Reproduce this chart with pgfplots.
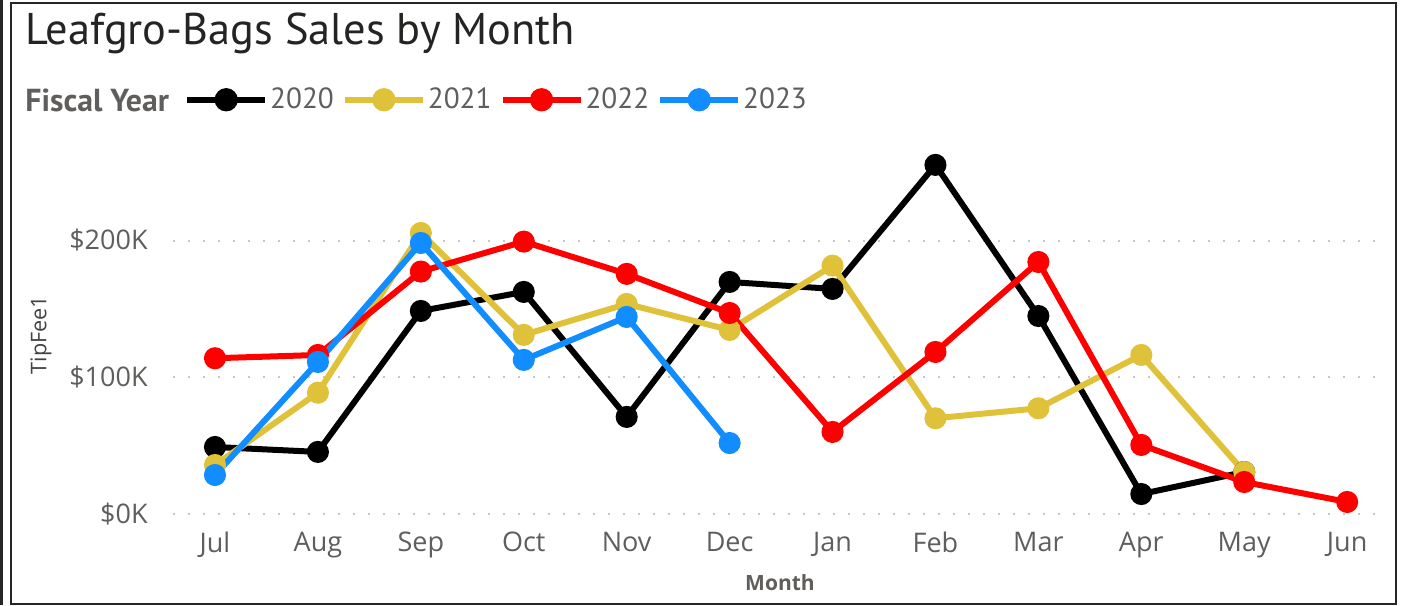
\documentclass[border=0pt]{standalone}
\usepackage{pgfplots}
\pgfplotsset{compat=1.18}
\usepackage{fontspec}
\setmainfont{Open Sans}
\newfontfamily\ptsans{PT Sans}
\definecolor{cYellow}{HTML}{E0C23A}
\definecolor{cRed}{HTML}{FF0000}
\definecolor{cBlue}{HTML}{118DFF}
\definecolor{cTick}{HTML}{605E5C}
\definecolor{cTitle}{HTML}{252423}
\definecolor{cGrid}{HTML}{C8C6C4}
\begin{document}
\begin{tikzpicture}
\useasboundingbox (0,0) rectangle (701pt,302.5pt);
% frame
\draw[line width=1pt, black!85] (5.5pt,0.5pt) rectangle (698pt,301pt);
\draw[line width=1.4pt, black!85] (0.8pt,0pt) -- (0.8pt,302.5pt);
% title
\node[anchor=base west, inner sep=0pt, font=\ptsans\fontsize{22.2}{25}\selectfont, text=cTitle] at (12.5pt,280pt) {Leafgro-Bags Sales by Month};
% legend title
\node[anchor=west, inner sep=0pt, font=\ptsans\bfseries\fontsize{15.9}{18}\selectfont, text=cTick] at (12.5pt,252.5pt) {Fiscal Year};
\begin{axis}[
  at={(86.5pt,45.5pt)}, anchor=south west,
  scale only axis, width=602pt, height=184.6pt,
  xmin=-0.408, xmax=11.29,
  ymin=0, ymax=270000,
  clip=false,
  axis line style={draw=none},
  tick style={draw=none},
  xtick={0,1,2,3,4,5,6,7,8,9,10,11},
  xticklabels={Jul,Aug,Sep,Oct,Nov,Dec,Jan,Feb,Mar,Apr,May,Jun},
  ytick={0,100000,200000},
  yticklabels={\$0K,\$100K,\$200K},
  scaled y ticks=false,
  ymajorgrids,
  grid style={cGrid, line width=1pt, dash pattern=on 1pt off 6.5pt},
  tick label style={font=\fontsize{13.5}{16}\selectfont, text=cTick, inner sep=0pt},
  x tick label style={anchor=north},
  xticklabel shift=9pt,
  y tick label style={anchor=east},
  yticklabel shift=12.5pt,
  legend columns=-1,
  legend style={at={(0.009,1.122)}, anchor=west, draw=none, fill=none,
    inner xsep=0pt, inner ysep=0pt,
    nodes={inner sep=0pt},
    font=\ptsans\fontsize{14.6}{18}\selectfont, text=cTick,
    /tikz/every odd column/.append style={column sep=1pt},
    /tikz/every even column/.append style={column sep=4pt}},
  legend image code/.code={%
    \draw[#1, mark=none] (0pt,0pt) -- (39pt,0pt);
    \draw[#1, mark size=4.3pt] plot coordinates {(19.5pt,0pt)};},
  every axis plot/.append style={line width=3pt, mark=*, mark size=4pt, mark options={solid}},
]
\addplot[color=black] coordinates {
(0,49000) (1,45400) (2,148500) (3,162400) (4,71000) (5,169700)
(6,164600) (7,255300) (8,144800) (9,14600) (10,30700)};
\addlegendentry{2020}
\addplot[color=cYellow] coordinates {
(0,35800) (1,88700) (2,205500) (3,131000) (4,153600) (5,134600)
(6,181600) (7,70000) (8,77300) (9,116300) (10,30700)};
\addlegendentry{2021}
\addplot[color=cRed] coordinates {
(0,113900) (1,116300) (2,177300) (3,199200) (4,175600) (5,147000)
(6,60000) (7,118500) (8,184300) (9,50500) (10,23400) (11,8800)};
\addlegendentry{2022}
\addplot[color=cBlue] coordinates {
(0,28500) (1,111200) (2,198200) (3,112700) (4,144100) (5,51900)};
\addlegendentry{2023}
\end{axis}
% axis titles
\node[rotate=90, inner sep=0pt, font=\fontsize{10.8}{12}\selectfont, text=cTick!70!black] at (20.5pt,135pt) {TipFee1};
\node[inner sep=0pt, font=\bfseries\fontsize{10.5}{12}\selectfont, text=cTick] at (390pt,11pt) {Month};
\end{tikzpicture}
\end{document}
